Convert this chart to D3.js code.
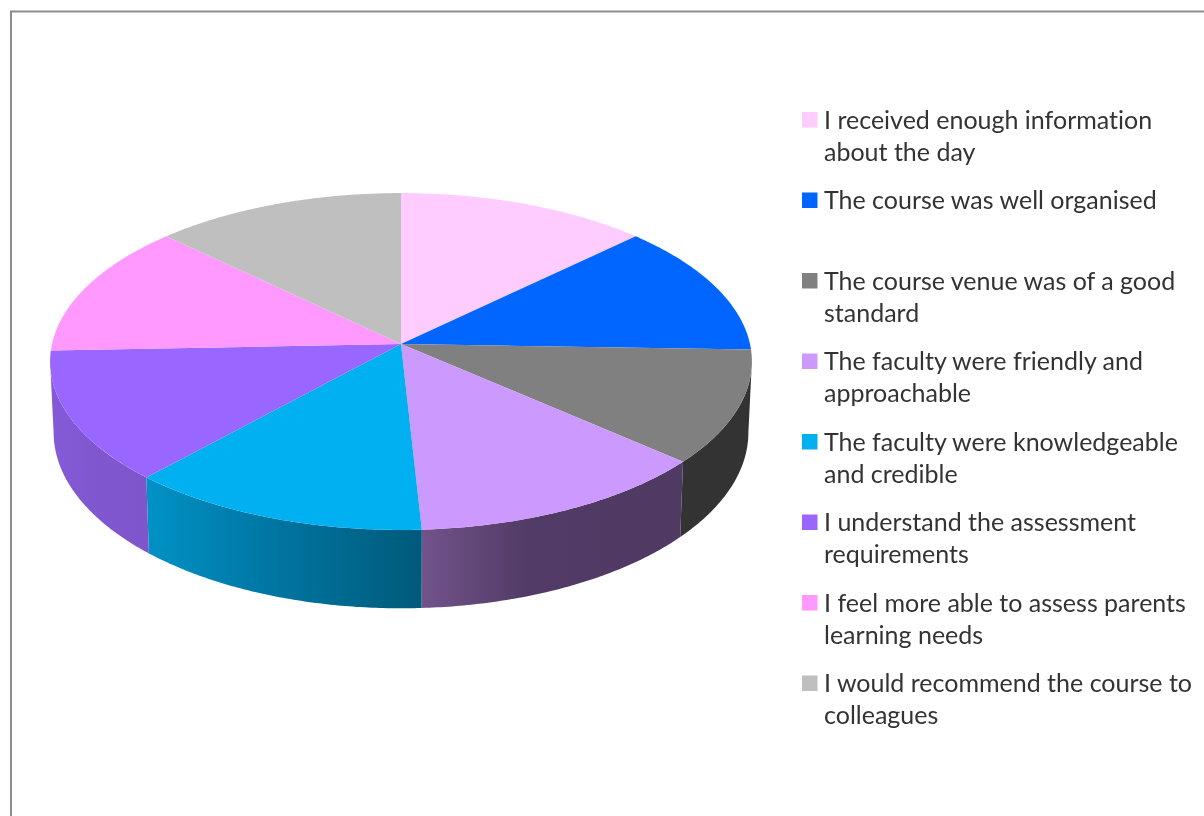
<!DOCTYPE html>
<html>
<head>
<meta charset="utf-8">
<script src="https://cdn.jsdelivr.net/npm/d3@7"></script>
<style>
  html, body { margin: 0; padding: 0; background: #fff; overflow: hidden; }
  svg { display: block; filter: blur(0.45px); }
  text { font-family: Lato, sans-serif; font-size: 25px; fill: #333; font-variant-ligatures: none; }
</style>
</head>
<body>
<svg id="chart" width="1204" height="816"></svg>
<script>
// values (share of the pie, in percent)
let questions = [
    ["I received enough information", "about the day"],
    ["The course was well organised"],
    ["The course venue was of a good", "standard"],
    ["The faculty were friendly and", "approachable"],
    ["The faculty were knowledgeable", "and credible"],
    ["I understand the assessment", "requirements"],
    ["I feel more able to assess parents", "learning needs"],
    ["I would recommend the course to", "colleagues"]
];
let shares = [12.8, 12.7, 10.9, 12.7, 12.6, 12.6, 12.8, 12.8];
let colors = ["#ffccff", "#0066ff", "#808080", "#cc99ff", "#00b0f0", "#9966ff", "#ff99ff", "#bfbfbf"];
// shading of the pie's outer wall, left / middle / right
let wallLeft = ["#000", "#000", "#333333", "#72538b", "#0092c6", "#855ad8", "#000", "#000"];
let wallMid = ["#000", "#000", "#333333", "#523b66", "#0079a6", "#8157d0", "#000", "#000"];
let wallRight = ["#000", "#000", "#333333", "#4f3a63", "#005a7a", "#7e55ca", "#000", "#000"];

let svg = d3.select("#chart");

// chart frame, runs off the right and bottom of the picture
svg.append("path")
    .attr("d", "M11,816V11.5H1204")
    .attr("fill", "none")
    .attr("stroke", "#8c8c8c")
    .attr("stroke-width", 2);

// tilted pie, far side is a bit smaller than near side
let cx = 401;
let topY = 344;
let bottomY = 414;
let radiusX = 349;
let radiusY = 166.6;
let persp = 0.104;
let bottomScaleX = 0.99;
let bottomScaleY = 1.045;

let project = (angle, apexY, scaleX, scaleY) => {
    let x = Math.sin(angle);
    let y = -Math.cos(angle);
    let w = 1 / (1 - persp * y);
    return [cx + x * radiusX * w * scaleX, apexY + y * radiusY * w * scaleY];
};

let pie = d3.pie().sort(null).value((d) => d);
let arcs = pie(shares);

let rimAngles = (a0, a1) => {
    let n = Math.max(2, Math.ceil((a1 - a0) / 0.01));
    return d3.range(n + 1).map((i) => a0 + (a1 - a0) * i / n);
};

let line = d3.line();

// walls are only seen between the two tangent points
let lo = Math.PI / 2 + Math.asin(persp);
let hi = 3 * Math.PI / 2 - Math.asin(persp);

let defs = svg.append("defs");

arcs.forEach((d, i) => {
    let a0 = Math.max(d.startAngle, lo);
    let a1 = Math.min(d.endAngle, hi);
    if (a1 <= a0) return;

    let upper = rimAngles(a0, a1).map((a) => project(a, topY, 1, 1));
    let lower = rimAngles(a0, a1).map((a) => project(a, bottomY, bottomScaleX, bottomScaleY)).reverse();
    let pts = upper.concat(lower);

    let xs = d3.extent(pts, (p) => p[0]);
    let grad = defs.append("linearGradient")
        .attr("id", "wall" + i)
        .attr("gradientUnits", "userSpaceOnUse")
        .attr("x1", xs[0]).attr("x2", xs[1])
        .attr("y1", 0).attr("y2", 0);
    grad.append("stop").attr("offset", 0).attr("stop-color", wallLeft[i]);
    grad.append("stop").attr("offset", 0.4).attr("stop-color", wallMid[i]);
    grad.append("stop").attr("offset", 1).attr("stop-color", wallRight[i]);

    svg.append("path")
        .attr("d", line(pts) + "Z")
        .attr("fill", `url(#wall${i})`);
});

svg.selectAll("path.slice")
    .data(arcs)
    .join("path")
    .attr("class", "slice")
    .attr("d", (d) => line([[cx, topY]].concat(rimAngles(d.startAngle, d.endAngle).map((a) => project(a, topY, 1, 1)))) + "Z")
    .attr("fill", (d, i) => colors[i]);

// legend
let legendY = d3.scalePoint()
    .domain(d3.range(questions.length))
    .range([119.5, 683]);

let legend = svg.selectAll("g.entry")
    .data(questions)
    .join("g")
    .attr("class", "entry")
    .attr("transform", (d, i) => `translate(802, ${legendY(i)})`);

legend.append("rect")
    .attr("y", -7.5)
    .attr("width", 15.5)
    .attr("height", 15.5)
    .attr("fill", (d, i) => colors[i]);

legend.selectAll("text")
    .data((d) => d)
    .join("text")
    .attr("x", 22)
    .attr("y", (d, i) => i * 32 + 9)
    .text((d) => d);
</script>
</body>
</html>
